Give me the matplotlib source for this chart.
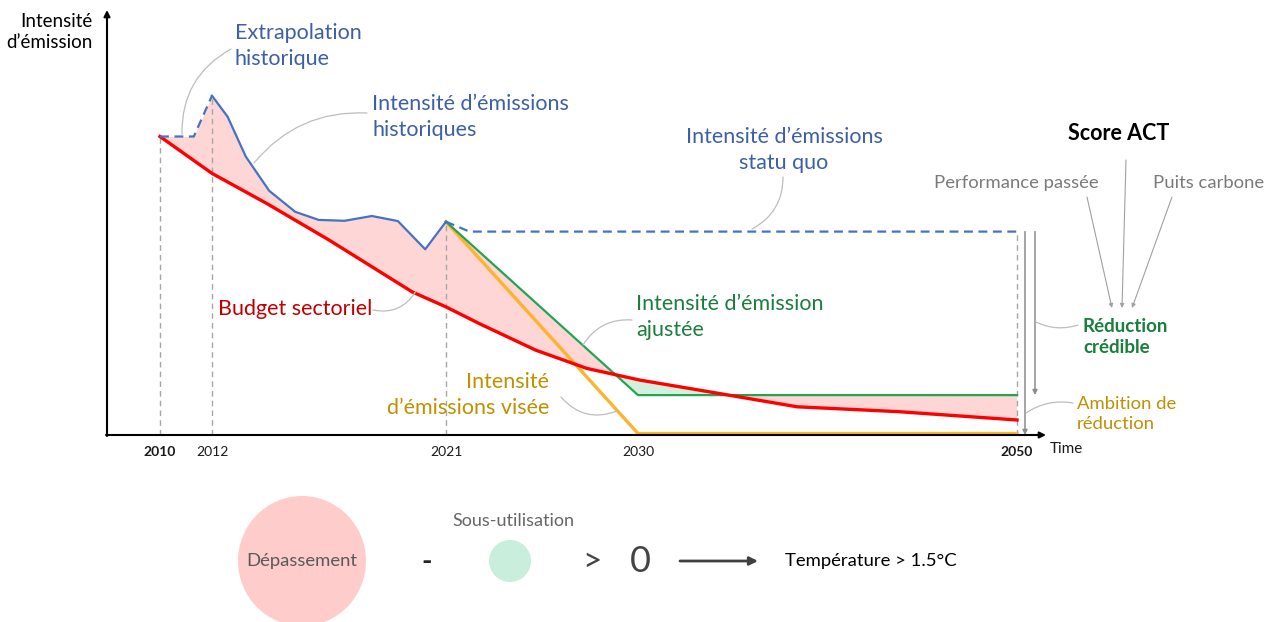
import numpy as np
import matplotlib
matplotlib.use('Agg')
import matplotlib.pyplot as plt
from matplotlib.patches import Ellipse
from matplotlib.transforms import offset_copy

plt.rcParams['font.family'] = ['Lato', 'DejaVu Sans']

# ── data (schematic intensity, arbitrary units) ───────────────────────────────
extrap_years = [2010, 2011.3, 2012]
extrap_vals = [99.5, 99.5, 113.1]

hist_years = [2012, 2012.6, 2013.3, 2014.2, 2015.2, 2016.1, 2017.1, 2018.15, 2019.15, 2020.2, 2021]
hist_vals = [113.1, 106.1, 92.8, 81.4, 74.4, 71.7, 71.4, 73.0, 71.3, 61.9, 71.1]

statu_years = [2021, 2022.1, 2050]
statu_vals = [71.1, 67.8, 67.8]

budget_years = [2010, 2012, 2014.1, 2016.5, 2019.7, 2021, 2022.6, 2025.2, 2027.6, 2030.1,
                2033.2, 2038.4, 2043.7, 2050]
budget_vals = [99.5, 87.2, 77.2, 65.0, 47.7, 42.7, 37.0, 28.3, 22.2, 18.3,
               15.0, 9.4, 7.8, 5.0]

adjusted_years = [2021, 2030, 2050]
adjusted_vals = [71.1, 13.3, 13.3]

target_years = [2021, 2030, 2050]
target_vals = [71.1, 0.5, 0.5]

tick_years = [2010, 2012, 2021, 2030, 2050]
bold_ticks = [2010, 2050]

# ── colours ───────────────────────────────────────────────────────────────────
BLUE_LINE = '#4472c4'
BLUE_TXT = '#3d5fa8'
RED_LINE = '#ff0000'
RED_TXT = '#c00000'
GREEN_LINE = '#22a550'
GREEN_TXT = '#1a7f3c'
ORANGE_LINE = '#fbb430'
GOLD_TXT = '#bf9000'
PINK = '#ffd6d6'
MINT = '#d3f0df'
LEAD = '#bdbdbd'

# schematic (non-linear) time axis: year -> horizontal position
YEAR_KNOTS = [1990, 2010, 2012, 2021, 2030, 2050, 2100]
POS_KNOTS = [-360, 160, 212, 446, 638, 1017, 1964.5]


def fwd(y):
    return np.interp(y, YEAR_KNOTS, POS_KNOTS)


def inv(p):
    return np.interp(p, POS_KNOTS, YEAR_KNOTS)


W, H = 1274, 622
fig = plt.figure(figsize=(W / 100, H / 100), dpi=100, facecolor='white')

ax = fig.add_axes([0, 0, 1, 1])
ax.set_xscale('function', functions=(fwd, inv))
ax.set_xlim(inv(0), inv(W))
ax.set_ylim((435 - H) / 3, 435 / 3)
ax.axis('off')

# ── fills ─────────────────────────────────────────────────────────────────────
hx = np.array(extrap_years[:-1] + hist_years)
hy = np.array(extrap_vals[:-1] + hist_vals)
g1 = np.unique(np.concatenate([hx, np.array(budget_years)[np.array(budget_years) <= 2021]]))
ax.fill_between(g1, np.interp(g1, hx, hy), np.interp(g1, budget_years, budget_vals),
                color=PINK, lw=0, zorder=1)

g2 = np.unique(np.concatenate([np.linspace(2021, 2050, 600),
                               [y for y in budget_years if y >= 2021]]))
adj = np.interp(g2, adjusted_years, adjusted_vals)
bud = np.interp(g2, budget_years, budget_vals)
ax.fill_between(g2, adj, bud, where=adj >= bud, interpolate=True, color=PINK, lw=0, zorder=1)
ax.fill_between(g2, adj, bud, where=adj < bud, interpolate=True, color=MINT, lw=0, zorder=1)

# ── guide lines ───────────────────────────────────────────────────────────────
for yr, top in [(2010, extrap_vals[0]), (2012, hist_vals[0]), (2021, hist_vals[-1]),
                (2050, statu_vals[-1])]:
    ax.plot([yr, yr], [0, top], color='#a6a6a6', lw=1, ls=(0, (4, 3)), zorder=2)

# ── lines ─────────────────────────────────────────────────────────────────────
ax.plot(budget_years, budget_vals, color=RED_LINE, lw=2.4, zorder=5)
ax.plot(target_years, target_vals, color=ORANGE_LINE, lw=2.4, zorder=4)
ax.plot(adjusted_years, adjusted_vals, color=GREEN_LINE, lw=1.6, zorder=4)
ax.plot(hist_years, hist_vals, color=BLUE_LINE, lw=1.6, zorder=6)
ax.plot(extrap_years, extrap_vals, color=BLUE_LINE, lw=1.6, ls=(0, (4, 2.5)), zorder=6)
ax.plot(statu_years, statu_vals, color=BLUE_LINE, lw=1.6, ls=(0, (4, 2.5)), zorder=6)

# reduction arrows just right of 2050
for dx, target in [(8, target_vals[-1] - 0.5), (18, adjusted_vals[-1])]:
    tr = offset_copy(ax.transData, fig=fig, x=dx, y=0, units='dots')
    ax.annotate('', xy=(2050, target), xycoords=tr, xytext=(2050, statu_vals[-1]), textcoords=tr,
                arrowprops=dict(arrowstyle='-|>', color='#8c8c8c', lw=1.1,
                                mutation_scale=7, shrinkA=0, shrinkB=0))

# tick labels
tt = ax.get_xaxis_transform()
for yr in tick_years:
    ax.text(yr, 1 - 452 / H, str(yr), transform=tt, ha='center', va='center',
            fontsize=10, color='#1a1a1a', fontweight='bold' if yr in bold_ticks else 'normal')

# ── overlay in pixel space for annotations ────────────────────────────────────
ov = fig.add_axes([0, 0, 1, 1], facecolor='none')
ov.set_xlim(0, W)
ov.set_ylim(H, 0)
ov.axis('off')

# axes arrows
ov.annotate('', xy=(107, 10), xytext=(107, 436),
            arrowprops=dict(arrowstyle='-|>', color='black', lw=1.5, mutation_scale=9,
                            shrinkA=0, shrinkB=0))
ov.annotate('', xy=(1046, 435), xytext=(106, 435),
            arrowprops=dict(arrowstyle='-|>', color='black', lw=1.5, mutation_scale=9,
                            shrinkA=0, shrinkB=0))
ov.text(93, 32, 'Intensité\nd’émission', ha='right', va='center', fontsize=13.5,
        linespacing=1.35, color='black', multialignment='right')
ov.text(1050, 449, 'Time', ha='left', va='center', fontsize=11, color='#1a1a1a')


def lead(p0, p1, rad):
    ov.annotate('', xy=p1, xytext=p0,
                arrowprops=dict(arrowstyle='-', color=LEAD, lw=0.9,
                                connectionstyle=f'arc3,rad={rad}', shrinkA=0, shrinkB=0))


FS = 15.5
LS = 1.4
ov.text(235, 46, 'Extrapolation\nhistorique', ha='left', va='center', fontsize=FS,
        color=BLUE_TXT, linespacing=LS)
lead((182, 134), (231, 49), -0.3)

ov.text(372, 117, 'Intensité d’émissions\nhistoriques', ha='left', va='center', fontsize=FS,
        color=BLUE_TXT, linespacing=LS)
lead((254, 163), (367, 113), -0.25)

ov.text(784, 150, 'Intensité d’émissions\nstatu quo', ha='center', va='center', fontsize=FS,
        color=BLUE_TXT, linespacing=LS)
lead((752, 229), (783, 177), 0.3)

ov.text(218, 309, 'Budget sectoriel', ha='left', va='center', fontsize=FS, color=RED_TXT)
lead((373, 310), (416, 291), 0.35)

ov.text(636, 317, 'Intensité d’émission\najustée', ha='left', va='center', fontsize=FS,
        color=GREEN_TXT, linespacing=LS)
lead((583, 345), (632, 320), -0.3)

ov.text(549, 395, 'Intensité\nd’émissions visée', ha='right', va='center', fontsize=FS,
        color=GOLD_TXT, linespacing=LS, multialignment='right')
lead((561, 397), (617, 411), 0.35)

ov.text(1119, 133, 'Score ACT', ha='center', va='center', fontsize=15.5, fontweight='bold',
        color='black')
ov.text(1016, 183, 'Performance passée', ha='center', va='center', fontsize=13.3, color='#7a7a7a')
ov.text(1209, 183, 'Puits carbone', ha='center', va='center', fontsize=13.3, color='#7a7a7a')
for p0, p1 in [((1087, 197), (1112, 308)), ((1126, 160), (1122, 308)),
               ((1172, 197), (1132, 308))]:
    ov.annotate('', xy=p1, xytext=p0,
                arrowprops=dict(arrowstyle='-|>', color='#a0a0a0', lw=0.8,
                                mutation_scale=6, shrinkA=0, shrinkB=0))

ov.text(1083, 337, 'Réduction\ncrédible', ha='left', va='center', fontsize=13.5,
        fontweight='bold', color=GREEN_TXT, linespacing=1.3)
lead((1036, 322), (1078, 325), 0.2)
ov.text(1077, 414, 'Ambition de\nréduction', ha='left', va='center', fontsize=13.3,
        color=GOLD_TXT, linespacing=1.3)
lead((1026, 413), (1073, 403), -0.2)

# ── bottom equation ───────────────────────────────────────────────────────────
ov.add_patch(Ellipse((302, 561), 128, 130, color='#ffcccc', lw=0))
ov.text(302, 561, 'Dépassement', ha='center', va='center', fontsize=13.3, color='#595959')
ov.text(427, 562, '-', ha='center', va='center', fontsize=20, fontweight='bold', color='#222222')
ov.add_patch(Ellipse((510, 561), 42, 42, color='#c9eedb', lw=0))
ov.text(513, 521, 'Sous-utilisation', ha='center', va='center', fontsize=13, color='#666666')
ov.text(592, 562, '>', ha='center', va='center', fontsize=24, color='#444444')
ov.text(640, 561, '0', ha='center', va='center', fontsize=26, color='#444444')
ov.annotate('', xy=(758, 561), xytext=(680, 561),
            arrowprops=dict(arrowstyle='-|>', color='#404040', lw=2, mutation_scale=12,
                            shrinkA=0, shrinkB=0))
ov.text(785, 561, 'Température > 1.5°C', ha='left', va='center', fontsize=13.3, color='black')

fig.savefig('out.png', dpi=100, facecolor='white')
